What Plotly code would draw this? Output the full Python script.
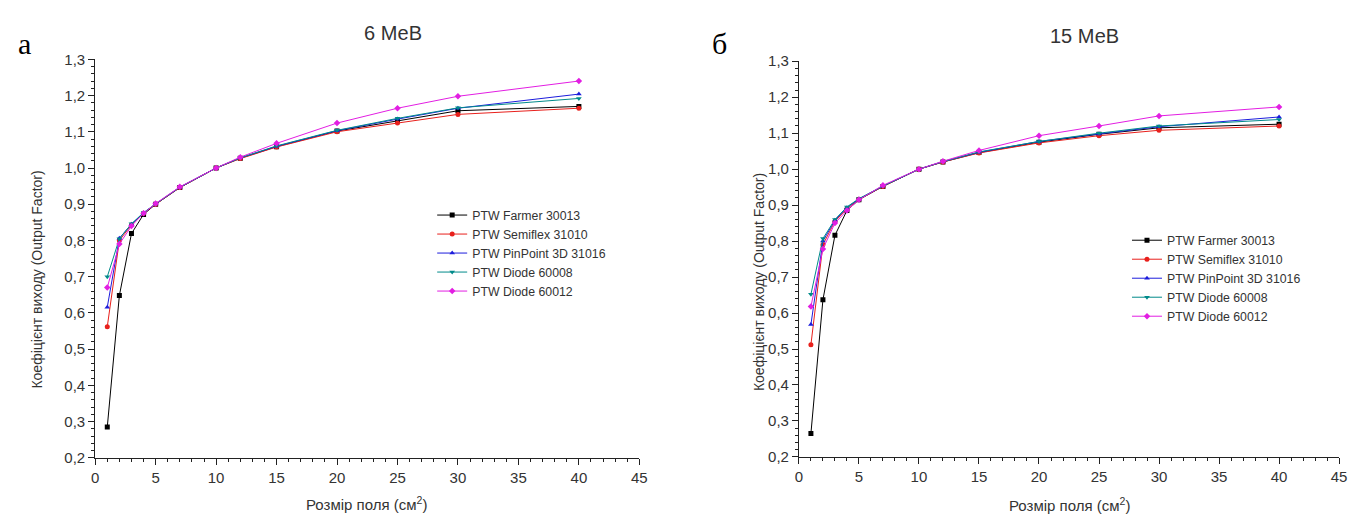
import plotly.graph_objects as go

# Field sizes (cm^2) shared by both energies
field_size = [1, 2, 3, 4, 5, 7, 10, 12, 15, 20, 25, 30, 40]

detectors = ["PTW Farmer 30013", "PTW Semiflex 31010", "PTW PinPoint 3D 31016",
             "PTW Diode 60008", "PTW Diode 60012"]

# Output factors, 6 MeV
of_6_farmer = [0.285, 0.648, 0.819, 0.872, 0.900, 0.946, 1.000, 1.027, 1.059, 1.102, 1.130, 1.158, 1.170]
of_6_semiflex = [0.562, 0.800, 0.843, 0.875, 0.900, 0.946, 1.000, 1.026, 1.058, 1.100, 1.124, 1.148, 1.165]
of_6_pinpoint = [0.616, 0.806, 0.845, 0.876, 0.901, 0.947, 1.000, 1.028, 1.060, 1.103, 1.135, 1.165, 1.204]
of_6_diode60008 = [0.700, 0.805, 0.846, 0.877, 0.901, 0.947, 1.000, 1.028, 1.061, 1.104, 1.137, 1.166, 1.192]
of_6_diode60012 = [0.670, 0.790, 0.840, 0.875, 0.902, 0.948, 1.000, 1.030, 1.068, 1.124, 1.165, 1.198, 1.240]

# Output factors, 15 MeV
of_15_farmer = [0.265, 0.637, 0.816, 0.885, 0.915, 0.952, 1.000, 1.020, 1.046, 1.075, 1.097, 1.115, 1.125]
of_15_semiflex = [0.512, 0.790, 0.855, 0.890, 0.916, 0.952, 1.000, 1.020, 1.045, 1.073, 1.093, 1.108, 1.120]
of_15_pinpoint = [0.568, 0.800, 0.858, 0.893, 0.917, 0.953, 1.000, 1.021, 1.047, 1.077, 1.098, 1.118, 1.145]
of_15_diode60008 = [0.652, 0.807, 0.860, 0.895, 0.918, 0.953, 1.000, 1.021, 1.048, 1.077, 1.100, 1.120, 1.138]
of_15_diode60012 = [0.618, 0.778, 0.850, 0.885, 0.915, 0.955, 1.000, 1.022, 1.052, 1.093, 1.120, 1.148, 1.173]

series_6 = [of_6_farmer, of_6_semiflex, of_6_pinpoint, of_6_diode60008, of_6_diode60012]
series_15 = [of_15_farmer, of_15_semiflex, of_15_pinpoint, of_15_diode60008, of_15_diode60012]

colors = ["#000000", "#e8201c", "#1c1cdc", "#008a8a", "#e21ee2"]
symbols = ["square", "circle", "triangle-up", "triangle-down", "diamond"]

W, H = 1358, 522
FONT = "Liberation Sans, Arial, sans-serif"

def px_x(v):
    return v / W

def px_y(v):
    return 1 - v / H

fig = go.Figure()

for i, name in enumerate(detectors):
    fig.add_trace(go.Scatter(
        x=field_size, y=series_6[i], name=name, mode="lines+markers",
        line=dict(color=colors[i], width=1),
        marker=dict(color=colors[i], size=5, symbol=symbols[i]),
        xaxis="x", yaxis="y", legend="legend"))
for i, name in enumerate(detectors):
    fig.add_trace(go.Scatter(
        x=field_size, y=series_15[i], name=name, mode="lines+markers",
        line=dict(color=colors[i], width=1),
        marker=dict(color=colors[i], size=5, symbol=symbols[i]),
        xaxis="x2", yaxis="y2", legend="legend2"))

def xaxis_style(domain, anchor):
    return dict(domain=domain, anchor=anchor, range=[0, 45], dtick=5, tick0=0,
                showline=True, linecolor="#222", linewidth=1, mirror=False,
                ticks="outside", ticklen=6, tickwidth=1, tickcolor="#222",
                showgrid=False, zeroline=False,
                tickfont=dict(family=FONT, size=15, color="#333"),
                minor=dict(dtick=1, ticks="outside", ticklen=3, tickcolor="#222",
                           showgrid=False))

def yaxis_style(domain, anchor):
    return dict(domain=domain, anchor=anchor, range=[0.2, 1.3], dtick=0.1, tick0=0.2,
                tickformat=".1f",
                showline=True, linecolor="#222", linewidth=1, mirror=False,
                ticks="outside", ticklen=6, tickwidth=1, tickcolor="#222",
                showgrid=False, zeroline=False,
                tickfont=dict(family=FONT, size=15, color="#333"),
                minor=dict(dtick=0.02, ticks="outside", ticklen=3, tickcolor="#222",
                           showgrid=False))

legend_style = dict(font=dict(family=FONT, size=12.3, color="#333"),
                    bgcolor="rgba(0,0,0,0)", borderwidth=0,
                    xanchor="left", yanchor="top", tracegroupgap=0)

fig.update_layout(
    width=W, height=H,
    margin=dict(l=0, r=0, t=0, b=0),
    paper_bgcolor="white", plot_bgcolor="white",
    separators=", ",
    showlegend=True,
    xaxis=xaxis_style([px_x(92), px_x(641)], "y"),
    yaxis=yaxis_style([px_y(464), px_y(52)], "x"),
    xaxis2=xaxis_style([px_x(802), px_x(1347)], "y2"),
    yaxis2=yaxis_style([px_y(463), px_y(54)], "x2"),
    legend=dict(x=px_x(432), y=px_y(198), **legend_style),
    legend2=dict(x=px_x(1133), y=px_y(224), **legend_style),
)

annotations = [
    # panel letters
    dict(text="а", x=px_x(21), y=px_y(36), font=dict(family="Liberation Serif, serif", size=30, color="#000")),
    dict(text="б", x=px_x(722), y=px_y(36), font=dict(family="Liberation Serif, serif", size=30, color="#000")),
    # energy titles
    dict(text="6 МеВ", x=px_x(392), y=px_y(25), font=dict(family=FONT, size=20, color="#333")),
    dict(text="15 МеВ", x=px_x(1090), y=px_y(28), font=dict(family=FONT, size=20, color="#333")),
    # axis titles
    dict(text="Коефіцієнт виходу (Output Factor)", x=px_x(33), y=px_y(280), textangle=-90,
         font=dict(family=FONT, size=14, color="#333")),
    dict(text="Коефіцієнт виходу (Output Factor)", x=px_x(762), y=px_y(282), textangle=-90,
         font=dict(family=FONT, size=14, color="#333")),
    dict(text="Розмір поля (см<sup>2</sup>)", x=px_x(366), y=px_y(511),
         font=dict(family=FONT, size=15, color="#333")),
    dict(text="Розмір поля (см<sup>2</sup>)", x=px_x(1075), y=px_y(512),
         font=dict(family=FONT, size=15, color="#333")),
]
for a in annotations:
    a.update(xref="paper", yref="paper", showarrow=False, xanchor="center", yanchor="middle")
fig.update_layout(annotations=annotations)

fig.write_html("out.html")
